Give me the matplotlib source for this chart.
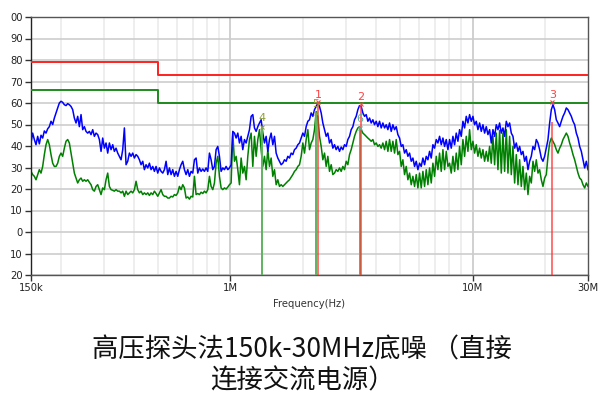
import numpy as np
import matplotlib.pyplot as plt
from matplotlib.ticker import FixedLocator, NullFormatter

# peak trace (blue) in four chunks (150k -> 30M)
blue_a = [41.4, 46, 43, 40.6, 44.5, 41, 45, 43.7, 47, 46,
          48, 49, 51.5, 50, 53, 55.4, 57.7, 60, 60.8, 60.3,
          59.2, 58.8, 59.7, 59.2, 58.4, 56.9, 53, 50.7, 53.8, 49,
          54.6, 47.6, 49, 46.8, 46, 46.8, 45.3, 47.6, 44.5, 46,
          45.3, 43, 37.5, 43.7, 39, 41.4, 36.7, 41.4, 38.3, 40.6,
          37.5, 39, 36.7, 35.2, 33.6, 38.3, 48.4, 31.3, 32.9, 36.7,
          35.2, 36.7, 34.4, 36, 35.2, 33.6, 31.3, 32.9, 29, 31.3,
          29.8, 32, 29, 30.5, 28.2, 30.5, 27.4, 29.8, 28.2, 27.4,
          29, 32.9, 26.7]
blue_b = [29.8, 26.7, 29, 25.9, 28.2, 25.9, 29, 31.3, 32.9, 29,
          26.7, 29, 25.9, 28.2, 27.4, 33.6, 34.4, 27.4, 29.8, 28.2,
          29.3, 28.2, 29.8, 28.2, 36.7, 33.6, 29, 30.5, 38.3, 39.8,
          35.2, 28.2, 29.8, 29, 30.5, 29, 29.8, 31.3, 46.8, 46,
          43.7, 46, 41.4, 44.5, 38.3, 43, 41.4, 44.5, 47.6, 53.8,
          54.6, 48.4, 46.8, 49, 50.7, 52.2, 46, 41.4, 44.5, 37.5,
          43, 46, 40.6, 44.5, 36.7, 34.4, 32.9, 31.3, 32, 33.6,
          32.9, 35.2, 34.4, 36.7, 36, 38.3, 39, 40.6, 41.4, 43.7,
          46, 44.5, 49, 51.5]
blue_c = [52.2, 55.4, 53.8, 56.9, 58.4, 60, 58.4, 55.4, 50.7, 47.6,
          44.5, 46, 41.4, 43, 39, 40.6, 38.3, 39.8, 37.5, 39.5,
          38.3, 40.6, 39.8, 43, 44.5, 47.6, 49, 52.2, 53.8, 56.9,
          58.8, 58.4, 55.4, 53.8, 54.6, 51.5, 53, 50.7, 52.2, 49.9,
          51.5, 49, 51.5, 48.4, 50.7, 48.4, 49.9, 47.6, 50.7, 46.8,
          49.9, 47.6, 49, 45.3, 43.7, 39.8, 40.6, 36.7, 38.3, 35.2,
          36.7, 32.9, 34.4, 30.5, 32.9, 29, 32, 30.5, 34.4, 31.3,
          35.2, 33.6, 37.5, 34.4, 40.6, 39, 43, 41.4, 44.5, 40.6,
          43.7, 39.8, 43, 38.3]
blue_d = [43, 39, 44.5, 40.6, 46, 42.2, 47.6, 44.5, 51.5, 48.4,
          53.8, 50.7, 54.6, 51.5, 53.8, 49.9, 51.5, 47.6, 50.7, 46.8,
          49.9, 46, 49, 45.3, 47.6, 41.4, 47.6, 44.5, 49.9, 47.6,
          50.7, 46, 48.4, 44.5, 51.5, 49, 50.7, 46, 44.5, 39,
          41.4, 37.5, 39.8, 36, 37.5, 32.9, 35.2, 29, 32.9, 35.2,
          39.8, 38.3, 43, 41.4, 38.3, 34.4, 32.9, 35.2, 39, 43,
          50.7, 56.9, 59.2, 56.9, 52.2, 50.7, 49, 51.5, 53.8, 55.4,
          57.7, 56.9, 55.4, 53.8, 51.5, 49.9, 46, 43.7, 39.8, 37.5,
          33.6, 29.8, 32.9, 29]

# average trace (green)
green_a = [28.2, 26.7, 25.9, 24.3, 26.7, 29, 27.4, 30.5, 36, 40.6,
           43, 40.6, 36, 32, 30.5, 30.5, 32, 35.2, 36.7, 35.2,
           39, 42.2, 43, 41.4, 36.7, 32, 27.4, 25.1, 22.8, 24.3,
           25.1, 23.6, 24.3, 23.6, 24.3, 23.1, 22, 19.7, 19, 21.2,
           22, 19.7, 17.4, 20.5, 19.7, 24.3, 27.4, 21.2, 19.7, 19.4,
           19, 19.7, 19, 19, 18.2, 19, 16.6, 19, 17.4, 18.2,
           19, 18.2, 19.7, 23.6, 19.7, 18.2, 19, 17.4, 18.2, 17.4,
           18.2, 17, 18.2, 17.4, 19, 17.9, 16.6, 18.2, 19.7, 17.4,
           16.6, 16.6, 15.8]
green_b = [15.8, 16.6, 16.3, 17.4, 17, 18.2, 21.2, 19.7, 22, 20.5,
           15.8, 16.3, 15.3, 16.6, 16.3, 25.9, 17.4, 17.9, 17.4, 18.5,
           17.9, 19, 18.2, 19.7, 25.9, 21.2, 19.7, 22.8, 32, 35.2,
           25.9, 20.5, 19.7, 20.5, 20, 20.9, 22, 22.8, 46, 32.9,
           35.2, 29, 22, 34.4, 27.4, 30.5, 24.3, 35.2, 43, 46,
           30.5, 44.5, 35.2, 43, 47.6, 38.3, 30.5, 35.2, 29, 38.3,
           30.5, 34.4, 25.9, 29, 22, 24.3, 21.2, 22, 21.2, 22,
           22.8, 23.6, 24.3, 25.5, 26.7, 28.2, 29, 30.5, 31.3, 35.2,
           41.4, 36.7, 43, 47.6]
green_c = [38.3, 41.4, 43, 47.6, 56, 53.8, 44.5, 39.8, 33.6, 36.7,
           30.5, 35.2, 28.2, 31.3, 26.7, 27.4, 29, 28.2, 29.8, 28.2,
           30.5, 29, 32.9, 31.3, 36, 38.3, 41.4, 44.5, 46.8, 48.4,
           48.9, 47.6, 46, 45.3, 44.5, 43.7, 43, 42.2, 43, 40.6,
           41.4, 39.8, 40.6, 39, 41.4, 38.3, 42.2, 37.5, 43, 37.5,
           42.2, 36.7, 43, 36, 37.5, 30.5, 33.6, 26.7, 30.5, 24.3,
           27.4, 22, 25.9, 21.2, 26.7, 20.5, 27.4, 20.5, 28.2, 21.2,
           29, 22, 29.8, 22.8, 32, 25.9, 35.2, 29, 36.7, 28.2,
           38.3, 29, 37.5, 30.5]
green_d = [32, 27.4, 35.2, 28.2, 36.7, 29, 39.8, 31.3, 43, 35.2,
           44.5, 37.5, 47.6, 38.3, 42.2, 36.7, 40.6, 35.2, 39, 34.4,
           38.3, 32.9, 37.5, 32.9, 39.8, 32, 44.5, 31.3, 46, 29,
           47.2, 27.4, 46, 28.2, 47.6, 27.4, 44.5, 26.7, 39.8, 22.8,
           36, 22, 33.6, 21.2, 30.5, 19.7, 27.4, 17.4, 25.9, 22.8,
           32.9, 28.2, 33.6, 27.4, 29, 24.3, 21.2, 25.1, 26.7, 35.2,
           41.4, 43.7, 42.2, 40.6, 38.3, 36.7, 39, 40.6, 43, 44.5,
           46, 44.5, 41.4, 39, 36, 33.6, 30.5, 27.4, 25.1, 24.3,
           22, 20.5, 22.8, 21.2]

blue = blue_a + blue_b + blue_c + blue_d
green = green_a + green_b + green_c + green_d
freq_pk = np.geomspace(0.15, 30, len(blue))   # MHz, sweep points
freq_av = np.geomspace(0.15, 30, len(green))

# limit lines
limit_freq = [0.15, 0.5, 30]
qp_limit = [79, 73, 73]
av_limit = [66, 60, 60]

# markers
pk_marker_freq = [2.30, 3.45, 21.4]
pk_marker_level = [60.5, 59.5, 60.5]
pk_line_top = [60, 59, 51]
pk_marker_names = ['1', '2', '3']
av_marker_freq = [1.35, 2.26, 3.42]
av_marker_level = [49, 55.5, 48.5]
av_marker_names = ['4', '5', '6']
av_label_colors = ['#8da03a', '#8da03a', '#5db09a']

x_ticks = [0.15, 1, 10, 30]
x_tick_labels = ['150k', '1M', '10M', '30M']
y_ticks = list(range(-20, 101, 10))
y_tick_labels = ['20', '10', '0', '10', '20', '30', '40', '50', '60', '70', '80', '90', '00']

fig = plt.figure(figsize=(6.03, 3.99), dpi=100)
ax = fig.add_axes([31 / 603, 1 - 275 / 399, 557 / 603, 258 / 399])

ax.set_xscale('log')
ax.set_xlim(0.15, 30)
ax.set_ylim(-20, 100)

# grid
minor = [m * d for d in (0.1, 1, 10) for m in range(2, 10) if 0.15 < m * d < 30]
for f in minor:
    ax.axvline(f, color='#ebebeb', lw=1.2, zorder=0)
for f in (1, 10):
    ax.axvline(f, color='#c8c8c8', lw=1.2, zorder=0)
for v in y_ticks:
    ax.axhline(v, color='#cdcdcd', lw=1.2, zorder=0)

ax.plot(limit_freq, qp_limit, drawstyle='steps-post', color='#ff2020', lw=1.4, zorder=3)
ax.plot(limit_freq, av_limit, drawstyle='steps-post', color='#1e8a1e', lw=1.4, zorder=3)

ax.plot(freq_av, green, color='#008000', lw=1.1, zorder=2)
ax.plot(freq_pk, blue, color='#0000ff', lw=1.1, zorder=2.5)

for f, top in zip(av_marker_freq, av_marker_level):
    ax.vlines(f, -20, top, color='#5fb35f', lw=1.4, zorder=4)
for f, top in zip(pk_marker_freq, pk_line_top):
    ax.vlines(f, -20, top, color='#ff3030', lw=1.2, alpha=0.8, zorder=4)

for f, v, n, c in zip(av_marker_freq, av_marker_level, av_marker_names, av_label_colors):
    ax.plot(f, v, marker='x', ms=3, mew=0.8, color=c, zorder=5)
    ax.text(f, v + 1.5, n, color=c, fontsize=8, ha='center', va='bottom', zorder=5)
for f, v, n in zip(pk_marker_freq, pk_marker_level, pk_marker_names):
    ax.plot(f, v, marker='x', ms=3, mew=0.8, color='#ff4040', zorder=5)
    ax.text(f, v + 1.0, n, color='#ff4040', fontsize=8, ha='center', va='bottom', zorder=5)

ax.xaxis.set_major_locator(FixedLocator(x_ticks))
ax.set_xticklabels(x_tick_labels)
ax.xaxis.set_minor_formatter(NullFormatter())
ax.tick_params(axis='x', which='minor', length=0)
ax.set_yticks(y_ticks)
ax.set_yticklabels(y_tick_labels)
ax.tick_params(axis='both', which='major', length=4, width=1, color='#333333',
               labelsize=7.2, labelcolor='#222222', pad=2)
ax.set_xlabel('Frequency(Hz)', fontsize=7.2, color='#333333', labelpad=4)

for name, sp in ax.spines.items():
    sp.set_color('#555555')
    sp.set_linewidth(1)
ax.spines['left'].set_color('#222222')

title_font = ['Noto Sans CJK SC', 'DejaVu Sans']
fig.text(0.501, 1 - 350 / 399, '高压探头法150k-30MHz底噪 （直接', family=title_font,
         fontsize=19, ha='center', va='center', color='#111111')
fig.text(0.501, 1 - 381 / 399, '连接交流电源）', family=title_font,
         fontsize=19, ha='center', va='center', color='#111111')

fig.savefig('out.png', dpi=100)
